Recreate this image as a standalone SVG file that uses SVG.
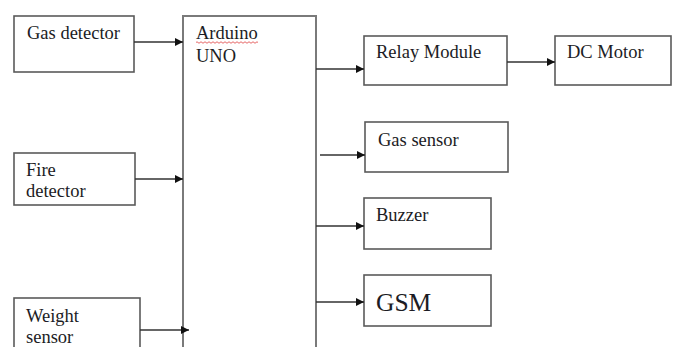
<svg xmlns="http://www.w3.org/2000/svg" width="685" height="347" viewBox="0 0 685 347">
<style>
  .box { fill: #fff; stroke: #5a5a5a; stroke-width: 1.6; }
  .big { fill: #fff; stroke: #7a7a7a; stroke-width: 2; }
  .lbl { font-family: "Liberation Serif", "Times New Roman", serif; font-size: 18.5px; fill: #1c1c24; }
  .gsm { font-size: 25.5px; }
  .con { stroke: #333; stroke-width: 1.5; fill: none; }
</style>
<defs>
  <marker id="ah" viewBox="0 0 10 10" refX="10" refY="5" markerWidth="9" markerHeight="8" markerUnits="userSpaceOnUse" orient="auto">
    <path d="M0,0 L10,5 L0,10 Z" fill="#111"/>
  </marker>
</defs>
<rect width="685" height="347" fill="#fff"/>

<g id="gas-detector">
  <rect class="box" x="14" y="16" width="120" height="56"/>
  <text class="lbl" x="27" y="39">Gas detector</text>
</g>
<g id="fire-detector">
  <rect class="box" x="14" y="153" width="121" height="52"/>
  <text class="lbl" x="26" y="176">Fire</text>
  <text class="lbl" x="26" y="197">detector</text>
</g>
<g id="weight-sensor">
  <rect class="box" x="14" y="298" width="126" height="60"/>
  <text class="lbl" x="26" y="322">Weight</text>
  <text class="lbl" x="26" y="343">sensor</text>
</g>
<g id="arduino">
  <rect class="big" x="183" y="16" width="133" height="345"/>
  <text class="lbl" x="196" y="39">Arduino</text>
  <path d="M196,42.5 q1,-1.5 2,0 t2,0 t2,0 t2,0 t2,0 t2,0 t2,0 t2,0 t2,0 t2,0 t2,0 t2,0 t2,0 t2,0 t2,0 t2,0 t2,0 t2,0 t2,0 t2,0 t2,0 t2,0 t2,0 t2,0 t2,0 t2,0 t2,0 t2,0 t2,0 t2,0 t2,0" fill="none" stroke="#e04040" stroke-width="0.8"/>
  <text class="lbl" x="196" y="62">UNO</text>
</g>
<g id="relay-module">
  <rect class="box" x="364" y="36" width="143" height="49"/>
  <text class="lbl" x="376" y="58">Relay Module</text>
</g>
<g id="dc-motor">
  <rect class="box" x="555" y="36" width="116" height="49"/>
  <text class="lbl" x="567" y="58">DC Motor</text>
</g>
<g id="gas-sensor">
  <rect class="box" x="365" y="122" width="143" height="50"/>
  <text class="lbl" x="378" y="146">Gas sensor</text>
</g>
<g id="buzzer">
  <rect class="box" x="364" y="198" width="127" height="51"/>
  <text class="lbl" x="376" y="221">Buzzer</text>
</g>
<g id="gsm">
  <rect class="box" x="364" y="275" width="127" height="51"/>
  <text class="lbl gsm" x="376" y="311">GSM</text>
</g>

<g id="connectors">
  <line class="con" x1="134" y1="42" x2="183" y2="42" marker-end="url(#ah)"/>
  <line class="con" x1="135" y1="179" x2="183" y2="179" marker-end="url(#ah)"/>
  <line class="con" x1="140" y1="330" x2="189" y2="330" marker-end="url(#ah)"/>
  <line class="con" x1="316" y1="69" x2="364" y2="69" marker-end="url(#ah)"/>
  <line class="con" x1="507" y1="62" x2="555" y2="62" marker-end="url(#ah)"/>
  <line class="con" x1="320" y1="155" x2="365" y2="155" marker-end="url(#ah)"/>
  <line class="con" x1="316" y1="226" x2="364" y2="226" marker-end="url(#ah)"/>
  <line class="con" x1="316" y1="302" x2="364" y2="302" marker-end="url(#ah)"/>
</g>
</svg>
